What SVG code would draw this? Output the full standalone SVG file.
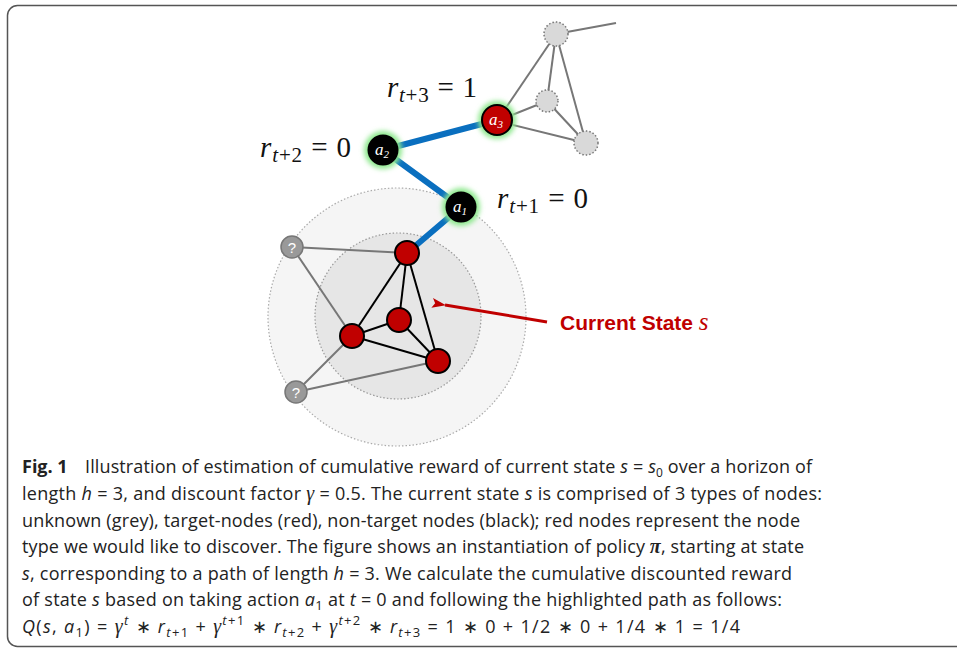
<svg xmlns="http://www.w3.org/2000/svg" width="957" height="648" viewBox="0 0 957 648">
<style>
.cap{font-family:"Open Sans","Liberation Sans",sans-serif;font-size:18px;fill:#222}
.i{font-style:italic}
.m{font-family:"Liberation Serif",serif;font-style:italic}
.lab{font-family:"Liberation Serif","DejaVu Serif",serif;font-size:29px;fill:#111}
.nl{font-family:"Liberation Serif",serif;font-style:italic;font-size:17px;fill:#fff;text-anchor:middle}
.blue{stroke:#0a6fbf;stroke-width:6;stroke-linecap:round}
.blk{stroke:#000;stroke-width:2}
.gry{stroke:#777;stroke-width:2}
.red{fill:#c00000;stroke:#000;stroke-width:2}
.unk{fill:#d9d9d9;stroke:#777;stroke-width:1.5;stroke-dasharray:1.5 2}
.q{fill:#999;stroke:#777;stroke-width:1.5}
.qt{font-family:"Liberation Sans",sans-serif;font-size:15px;fill:#fff;text-anchor:middle}
</style>
<defs>
<filter id="glow" x="-50%" y="-50%" width="200%" height="200%"><feGaussianBlur stdDeviation="2.5"/></filter>
<marker id="arr" markerWidth="14" markerHeight="12" refX="1" refY="6" orient="auto" markerUnits="userSpaceOnUse" viewBox="0 0 14 12"><path d="M14,1 L0,6 L14,11 L11,6 z" fill="#c00000"/></marker>
</defs>
<rect x="7.5" y="5.5" width="1000" height="641" rx="10" fill="#fff" stroke="#555" stroke-width="1.5"/>
<g id="state-regions">
<circle cx="397" cy="317" r="129" fill="#f5f5f5" stroke="#aaa" stroke-width="1.2" stroke-dasharray="1.5 2"/>
<circle cx="398" cy="316" r="83" fill="#e6e6e6" stroke="#999" stroke-width="1.2" stroke-dasharray="1.5 2"/>
</g>
<g id="connectors">
<line class="gry" x1="292" y1="247" x2="407" y2="253"/>
<line class="gry" x1="292" y1="247" x2="352" y2="336"/>
<line class="gry" x1="352" y1="336" x2="296" y2="392"/>
<line class="gry" x1="296" y1="392" x2="438" y2="361"/>
<line class="blk" x1="407" y1="253" x2="352" y2="336"/>
<line class="blk" x1="407" y1="253" x2="399" y2="320"/>
<line class="blk" x1="407" y1="253" x2="438" y2="361"/>
<line class="blk" x1="399" y1="320" x2="352" y2="336"/>
<line class="blk" x1="399" y1="320" x2="438" y2="361"/>
<line class="blk" x1="352" y1="336" x2="438" y2="361"/>
<line class="gry" x1="497" y1="121" x2="556" y2="34"/>
<line class="gry" x1="497" y1="121" x2="547" y2="101"/>
<line class="gry" x1="497" y1="121" x2="586" y2="143"/>
<line class="gry" x1="556" y1="34" x2="547" y2="101"/>
<line class="gry" x1="556" y1="34" x2="586" y2="143"/>
<line class="gry" x1="547" y1="101" x2="586" y2="143"/>
<line class="gry" x1="556" y1="34" x2="616" y2="23"/>
<line class="blue" x1="407" y1="253" x2="461" y2="207"/>
<line class="blue" x1="461" y1="207" x2="383" y2="150"/>
<line class="blue" x1="383" y1="150" x2="497" y2="120"/>
<line x1="547" y1="322" x2="445" y2="305" stroke="#c00000" stroke-width="3" marker-end="url(#arr)"/>
</g>
<g id="n-q1"><circle class="q" cx="292" cy="247" r="11"/><text class="qt" x="292" y="252.5">?</text></g>
<g id="n-q2"><circle class="q" cx="296" cy="392" r="11"/><text class="qt" x="296" y="397.5">?</text></g>
<g id="n-r1"><circle class="red" cx="407" cy="253" r="12"/></g>
<g id="n-r2"><circle class="red" cx="399" cy="320" r="12"/></g>
<g id="n-r3"><circle class="red" cx="352" cy="336" r="12"/></g>
<g id="n-r4"><circle class="red" cx="438" cy="361" r="12"/></g>
<g id="n-u1"><circle class="unk" cx="556" cy="34" r="12"/></g>
<g id="n-u2"><circle class="unk" cx="547" cy="101" r="11"/></g>
<g id="n-u3"><circle class="unk" cx="586" cy="143" r="12"/></g>
<g id="n-a1"><circle cx="461" cy="207" r="19" fill="#8de88d" filter="url(#glow)"/><circle cx="461" cy="207" r="15.5" fill="#000"/><text class="nl" x="460" y="212">a<tspan font-size="11" dy="3">1</tspan></text></g>
<g id="n-a2"><circle cx="383" cy="150" r="19" fill="#8de88d" filter="url(#glow)"/><circle cx="383" cy="150" r="15.5" fill="#000"/><text class="nl" x="382" y="155">a<tspan font-size="11" dy="3">2</tspan></text></g>
<g id="n-a3"><circle cx="497" cy="120" r="19" fill="#8de88d" filter="url(#glow)"/><circle class="red" cx="497" cy="120" r="15"/><text class="nl" x="496" y="125">a<tspan font-size="11" dy="3">3</tspan></text></g>
<g id="labels">
<text class="lab" x="387" y="97" textLength="90" lengthAdjust="spacing"><tspan class="m">r</tspan><tspan class="m" font-size="21" dy="5">t</tspan><tspan font-size="21">+3</tspan><tspan dy="-5"> = 1</tspan></text>
<text class="lab" x="260" y="157" textLength="91" lengthAdjust="spacing"><tspan class="m">r</tspan><tspan class="m" font-size="21" dy="5">t</tspan><tspan font-size="21">+2</tspan><tspan dy="-5"> = 0</tspan></text>
<text class="lab" x="497" y="208" textLength="91" lengthAdjust="spacing"><tspan class="m">r</tspan><tspan class="m" font-size="21" dy="5">t</tspan><tspan font-size="21">+1</tspan><tspan dy="-5"> = 0</tspan></text>
<text x="560" y="329.5" font-family="Liberation Sans,sans-serif" font-weight="bold" font-size="21" fill="#c00000">Current State <tspan font-family="Liberation Serif,serif" font-style="italic" font-weight="normal" font-size="25">s</tspan></text>
</g>
<g id="caption" class="cap">
<text x="22" y="473" font-weight="bold">Fig. 1</text>
<text x="85" y="473" textLength="727" lengthAdjust="spacing">Illustration of estimation of cumulative reward of current state <tspan class="i">s</tspan> = <tspan class="i">s</tspan><tspan font-size="12" dy="4">0</tspan><tspan dy="-4"> over a horizon of</tspan></text>
<text x="22" y="500" textLength="800" lengthAdjust="spacing">length <tspan class="i">h</tspan> = 3, and discount factor <tspan class="m" font-size="20">γ</tspan> = 0.5. The current state <tspan class="i">s</tspan> is comprised of 3 types of nodes:</text>
<text x="22" y="527" textLength="778" lengthAdjust="spacing">unknown (grey), target-nodes (red), non-target nodes (black); red nodes represent the node</text>
<text x="22" y="553" textLength="782" lengthAdjust="spacing">type we would like to discover. The figure shows an instantiation of policy <tspan class="m" font-weight="bold" font-size="20">π</tspan>, starting at state</text>
<text x="22" y="580" textLength="770" lengthAdjust="spacing"><tspan class="i">s</tspan>, corresponding to a path of length <tspan class="i">h</tspan> = 3. We calculate the cumulative discounted reward</text>
<text x="22" y="606" textLength="760" lengthAdjust="spacing">of state <tspan class="i">s</tspan> based on taking action <tspan class="i">a</tspan><tspan font-size="13" dy="4">1</tspan><tspan dy="-4"> at </tspan><tspan class="i">t</tspan> = 0 and following the highlighted path as follows:</text>
<text x="22" y="633" textLength="718" lengthAdjust="spacing"><tspan class="i">Q</tspan>(<tspan class="i">s</tspan>, <tspan class="i">a</tspan><tspan font-size="13" dy="4">1</tspan><tspan dy="-4">) = </tspan><tspan class="m" font-size="20">γ</tspan><tspan class="i" font-size="13" dy="-8">t</tspan><tspan dy="8"> ∗ </tspan><tspan class="i">r</tspan><tspan class="i" font-size="13" dy="4">t</tspan><tspan font-size="13">+1</tspan><tspan dy="-4"> + </tspan><tspan class="m" font-size="20">γ</tspan><tspan class="i" font-size="13" dy="-8">t</tspan><tspan font-size="13">+1</tspan><tspan dy="8"> ∗ </tspan><tspan class="i">r</tspan><tspan class="i" font-size="13" dy="4">t</tspan><tspan font-size="13">+2</tspan><tspan dy="-4"> + </tspan><tspan class="m" font-size="20">γ</tspan><tspan class="i" font-size="13" dy="-8">t</tspan><tspan font-size="13">+2</tspan><tspan dy="8"> ∗ </tspan><tspan class="i">r</tspan><tspan class="i" font-size="13" dy="4">t</tspan><tspan font-size="13">+3</tspan><tspan dy="-4"> = 1 ∗ 0 + 1/2 ∗ 0 + 1/4 ∗ 1 = 1/4</tspan></text>
</g>
</svg>
